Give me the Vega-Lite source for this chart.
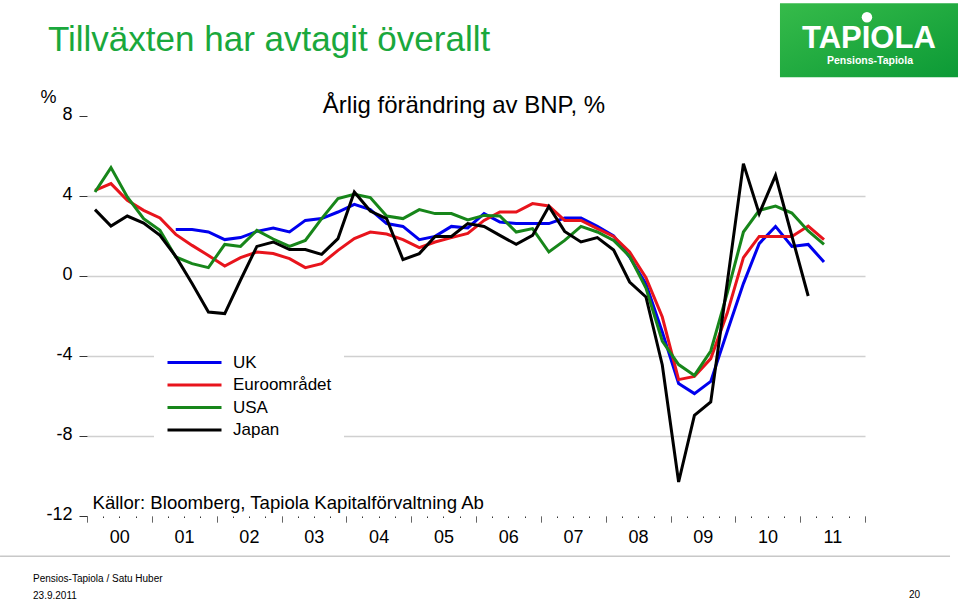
{
  "$schema": "https://vega.github.io/schema/vega-lite/v6.json",
  "width": 778,
  "height": 400,
  "autosize": {"type": "none"},
  "padding": {"left": 87, "top": 116, "right": 95, "bottom": 84},
  "background": "white",
  "config": {"view": {"stroke": null}, "font": "Liberation Sans"},
  "layer": [
    {
      "data": {"values": [
        {"date": "2001-05-15", "country": "UK", "value": 2.32},
        {"date": "2001-08-15", "country": "UK", "value": 2.32},
        {"date": "2001-11-15", "country": "UK", "value": 2.2},
        {"date": "2002-02-15", "country": "UK", "value": 1.82},
        {"date": "2002-05-15", "country": "UK", "value": 1.92},
        {"date": "2002-08-15", "country": "UK", "value": 2.23},
        {"date": "2002-11-15", "country": "UK", "value": 2.4},
        {"date": "2003-02-15", "country": "UK", "value": 2.2},
        {"date": "2003-05-15", "country": "UK", "value": 2.78},
        {"date": "2003-08-15", "country": "UK", "value": 2.87},
        {"date": "2003-11-15", "country": "UK", "value": 3.2},
        {"date": "2004-02-15", "country": "UK", "value": 3.58},
        {"date": "2004-05-15", "country": "UK", "value": 3.32},
        {"date": "2004-08-15", "country": "UK", "value": 2.62},
        {"date": "2004-11-15", "country": "UK", "value": 2.48},
        {"date": "2005-02-15", "country": "UK", "value": 1.82},
        {"date": "2005-05-15", "country": "UK", "value": 1.98},
        {"date": "2005-08-15", "country": "UK", "value": 2.48},
        {"date": "2005-11-15", "country": "UK", "value": 2.4},
        {"date": "2006-02-15", "country": "UK", "value": 3.12},
        {"date": "2006-05-15", "country": "UK", "value": 2.7},
        {"date": "2006-08-15", "country": "UK", "value": 2.62},
        {"date": "2006-11-15", "country": "UK", "value": 2.62},
        {"date": "2007-02-15", "country": "UK", "value": 2.62},
        {"date": "2007-05-15", "country": "UK", "value": 2.9},
        {"date": "2007-08-15", "country": "UK", "value": 2.9},
        {"date": "2007-11-15", "country": "UK", "value": 2.48},
        {"date": "2008-02-15", "country": "UK", "value": 2.0},
        {"date": "2008-05-15", "country": "UK", "value": 0.95},
        {"date": "2008-08-15", "country": "UK", "value": -0.4},
        {"date": "2008-11-15", "country": "UK", "value": -2.8},
        {"date": "2009-02-15", "country": "UK", "value": -5.38},
        {"date": "2009-05-15", "country": "UK", "value": -5.88},
        {"date": "2009-08-15", "country": "UK", "value": -5.27},
        {"date": "2009-11-15", "country": "UK", "value": -2.8},
        {"date": "2010-02-15", "country": "UK", "value": -0.38},
        {"date": "2010-05-15", "country": "UK", "value": 1.62},
        {"date": "2010-08-15", "country": "UK", "value": 2.48},
        {"date": "2010-11-15", "country": "UK", "value": 1.48},
        {"date": "2011-02-15", "country": "UK", "value": 1.58},
        {"date": "2011-05-15", "country": "UK", "value": 0.7},

        {"date": "2000-02-15", "country": "Euroområdet", "value": 4.28},
        {"date": "2000-05-15", "country": "Euroområdet", "value": 4.62},
        {"date": "2000-08-15", "country": "Euroområdet", "value": 3.78},
        {"date": "2000-11-15", "country": "Euroområdet", "value": 3.28},
        {"date": "2001-02-15", "country": "Euroområdet", "value": 2.9},
        {"date": "2001-05-15", "country": "Euroområdet", "value": 2.08},
        {"date": "2001-08-15", "country": "Euroområdet", "value": 1.53},
        {"date": "2001-11-15", "country": "Euroområdet", "value": 1.03},
        {"date": "2002-02-15", "country": "Euroområdet", "value": 0.5},
        {"date": "2002-05-15", "country": "Euroområdet", "value": 0.92},
        {"date": "2002-08-15", "country": "Euroområdet", "value": 1.2},
        {"date": "2002-11-15", "country": "Euroområdet", "value": 1.12},
        {"date": "2003-02-15", "country": "Euroområdet", "value": 0.87},
        {"date": "2003-05-15", "country": "Euroområdet", "value": 0.42},
        {"date": "2003-08-15", "country": "Euroområdet", "value": 0.62},
        {"date": "2003-11-15", "country": "Euroområdet", "value": 1.28},
        {"date": "2004-02-15", "country": "Euroområdet", "value": 1.87},
        {"date": "2004-05-15", "country": "Euroområdet", "value": 2.2},
        {"date": "2004-08-15", "country": "Euroområdet", "value": 2.1},
        {"date": "2004-11-15", "country": "Euroområdet", "value": 1.82},
        {"date": "2005-02-15", "country": "Euroområdet", "value": 1.42},
        {"date": "2005-05-15", "country": "Euroområdet", "value": 1.7},
        {"date": "2005-08-15", "country": "Euroområdet", "value": 1.92},
        {"date": "2005-11-15", "country": "Euroområdet", "value": 2.13},
        {"date": "2006-02-15", "country": "Euroområdet", "value": 2.78},
        {"date": "2006-05-15", "country": "Euroområdet", "value": 3.2},
        {"date": "2006-08-15", "country": "Euroområdet", "value": 3.2},
        {"date": "2006-11-15", "country": "Euroområdet", "value": 3.62},
        {"date": "2007-02-15", "country": "Euroområdet", "value": 3.5},
        {"date": "2007-05-15", "country": "Euroområdet", "value": 2.78},
        {"date": "2007-08-15", "country": "Euroområdet", "value": 2.78},
        {"date": "2007-11-15", "country": "Euroområdet", "value": 2.37},
        {"date": "2008-02-15", "country": "Euroområdet", "value": 1.98},
        {"date": "2008-05-15", "country": "Euroområdet", "value": 1.2},
        {"date": "2008-08-15", "country": "Euroområdet", "value": -0.08},
        {"date": "2008-11-15", "country": "Euroområdet", "value": -2.05},
        {"date": "2009-02-15", "country": "Euroområdet", "value": -5.18},
        {"date": "2009-05-15", "country": "Euroområdet", "value": -5.02},
        {"date": "2009-08-15", "country": "Euroområdet", "value": -4.13},
        {"date": "2009-11-15", "country": "Euroområdet", "value": -1.88},
        {"date": "2010-02-15", "country": "Euroområdet", "value": 0.92},
        {"date": "2010-05-15", "country": "Euroområdet", "value": 1.98},
        {"date": "2010-08-15", "country": "Euroområdet", "value": 1.98},
        {"date": "2010-11-15", "country": "Euroområdet", "value": 1.98},
        {"date": "2011-02-15", "country": "Euroområdet", "value": 2.5},
        {"date": "2011-05-15", "country": "Euroområdet", "value": 1.82},

        {"date": "2000-02-15", "country": "USA", "value": 4.2},
        {"date": "2000-05-15", "country": "USA", "value": 5.42},
        {"date": "2000-08-15", "country": "USA", "value": 3.95},
        {"date": "2000-11-15", "country": "USA", "value": 2.87},
        {"date": "2001-02-15", "country": "USA", "value": 2.28},
        {"date": "2001-05-15", "country": "USA", "value": 0.95},
        {"date": "2001-08-15", "country": "USA", "value": 0.62},
        {"date": "2001-11-15", "country": "USA", "value": 0.42},
        {"date": "2002-02-15", "country": "USA", "value": 1.58},
        {"date": "2002-05-15", "country": "USA", "value": 1.48},
        {"date": "2002-08-15", "country": "USA", "value": 2.28},
        {"date": "2002-11-15", "country": "USA", "value": 1.85},
        {"date": "2003-02-15", "country": "USA", "value": 1.48},
        {"date": "2003-05-15", "country": "USA", "value": 1.78},
        {"date": "2003-08-15", "country": "USA", "value": 2.87},
        {"date": "2003-11-15", "country": "USA", "value": 3.87},
        {"date": "2004-02-15", "country": "USA", "value": 4.08},
        {"date": "2004-05-15", "country": "USA", "value": 3.92},
        {"date": "2004-08-15", "country": "USA", "value": 3.0},
        {"date": "2004-11-15", "country": "USA", "value": 2.87},
        {"date": "2005-02-15", "country": "USA", "value": 3.32},
        {"date": "2005-05-15", "country": "USA", "value": 3.12},
        {"date": "2005-08-15", "country": "USA", "value": 3.12},
        {"date": "2005-11-15", "country": "USA", "value": 2.8},
        {"date": "2006-02-15", "country": "USA", "value": 3.03},
        {"date": "2006-05-15", "country": "USA", "value": 3.0},
        {"date": "2006-08-15", "country": "USA", "value": 2.2},
        {"date": "2006-11-15", "country": "USA", "value": 2.37},
        {"date": "2007-02-15", "country": "USA", "value": 1.2},
        {"date": "2007-05-15", "country": "USA", "value": 1.78},
        {"date": "2007-08-15", "country": "USA", "value": 2.48},
        {"date": "2007-11-15", "country": "USA", "value": 2.2},
        {"date": "2008-02-15", "country": "USA", "value": 1.78},
        {"date": "2008-05-15", "country": "USA", "value": 0.98},
        {"date": "2008-08-15", "country": "USA", "value": -0.6},
        {"date": "2008-11-15", "country": "USA", "value": -3.25},
        {"date": "2009-02-15", "country": "USA", "value": -4.43},
        {"date": "2009-05-15", "country": "USA", "value": -4.97},
        {"date": "2009-08-15", "country": "USA", "value": -3.75},
        {"date": "2009-11-15", "country": "USA", "value": -0.88},
        {"date": "2010-02-15", "country": "USA", "value": 2.2},
        {"date": "2010-05-15", "country": "USA", "value": 3.28},
        {"date": "2010-08-15", "country": "USA", "value": 3.5},
        {"date": "2010-11-15", "country": "USA", "value": 3.15},
        {"date": "2011-02-15", "country": "USA", "value": 2.25},
        {"date": "2011-05-15", "country": "USA", "value": 1.58},

        {"date": "2000-02-15", "country": "Japan", "value": 3.32},
        {"date": "2000-05-15", "country": "Japan", "value": 2.5},
        {"date": "2000-08-15", "country": "Japan", "value": 3.0},
        {"date": "2000-11-15", "country": "Japan", "value": 2.65},
        {"date": "2001-02-15", "country": "Japan", "value": 2.03},
        {"date": "2001-05-15", "country": "Japan", "value": 0.98},
        {"date": "2001-08-15", "country": "Japan", "value": -0.38},
        {"date": "2001-11-15", "country": "Japan", "value": -1.8},
        {"date": "2002-02-15", "country": "Japan", "value": -1.88},
        {"date": "2002-05-15", "country": "Japan", "value": -0.2},
        {"date": "2002-08-15", "country": "Japan", "value": 1.48},
        {"date": "2002-11-15", "country": "Japan", "value": 1.7},
        {"date": "2003-02-15", "country": "Japan", "value": 1.32},
        {"date": "2003-05-15", "country": "Japan", "value": 1.32},
        {"date": "2003-08-15", "country": "Japan", "value": 1.08},
        {"date": "2003-11-15", "country": "Japan", "value": 1.87},
        {"date": "2004-02-15", "country": "Japan", "value": 4.2},
        {"date": "2004-05-15", "country": "Japan", "value": 3.25},
        {"date": "2004-08-15", "country": "Japan", "value": 2.87},
        {"date": "2004-11-15", "country": "Japan", "value": 0.82},
        {"date": "2005-02-15", "country": "Japan", "value": 1.12},
        {"date": "2005-05-15", "country": "Japan", "value": 1.98},
        {"date": "2005-08-15", "country": "Japan", "value": 1.98},
        {"date": "2005-11-15", "country": "Japan", "value": 2.62},
        {"date": "2006-02-15", "country": "Japan", "value": 2.48},
        {"date": "2006-05-15", "country": "Japan", "value": 2.03},
        {"date": "2006-08-15", "country": "Japan", "value": 1.58},
        {"date": "2006-11-15", "country": "Japan", "value": 2.03},
        {"date": "2007-02-15", "country": "Japan", "value": 3.48},
        {"date": "2007-05-15", "country": "Japan", "value": 2.23},
        {"date": "2007-08-15", "country": "Japan", "value": 1.7},
        {"date": "2007-11-15", "country": "Japan", "value": 1.92},
        {"date": "2008-02-15", "country": "Japan", "value": 1.3},
        {"date": "2008-05-15", "country": "Japan", "value": -0.3},
        {"date": "2008-08-15", "country": "Japan", "value": -1.05},
        {"date": "2008-11-15", "country": "Japan", "value": -4.45},
        {"date": "2009-02-15", "country": "Japan", "value": -10.3},
        {"date": "2009-05-15", "country": "Japan", "value": -6.97},
        {"date": "2009-08-15", "country": "Japan", "value": -6.3},
        {"date": "2009-11-15", "country": "Japan", "value": -0.4},
        {"date": "2010-02-15", "country": "Japan", "value": 5.62},
        {"date": "2010-05-15", "country": "Japan", "value": 3.12},
        {"date": "2010-08-15", "country": "Japan", "value": 5.03},
        {"date": "2010-11-15", "country": "Japan", "value": 2.0},
        {"date": "2011-02-15", "country": "Japan", "value": -1.0}
      ]},
      "mark": {"type": "line", "strokeWidth": 3, "clip": false},
      "encoding": {
        "x": {
          "field": "date", "type": "temporal",
          "scale": {"type": "utc", "nice": false, "domain": [{"year": 2000, "month": 1, "date": 1, "utc": true}, {"year": 2012, "month": 1, "date": 1, "utc": true}]},
          "axis": {
            "tickCount": {"interval": "month", "step": 3},
            "labelExpr": "utcmonth(datum.value) == 6 ? utcFormat(datum.value, '%y') : ''",
            "labelOverlap": false, "labelFlush": false, "labelBound": false,
            "labelFontSize": 18, "labelColor": "black", "labelPadding": 6, "labelAlign": "center",
            "tickSize": 6, "tickColor": "#333333", "tickWidth": 1,
            "tickDash": {"condition": {"test": "utcmonth(datum.value) != 0", "value": [1.5, 30]}, "value": [1, 0]},
            "domain": false, "grid": false,
            "title": "Källor: Bloomberg, Tapiola Kapitalförvaltning Ab",
            "titleX": 5, "titleY": -8, "titleAlign": "left", "titleBaseline": "alphabetic",
            "titleFontSize": 18.6, "titleFontWeight": "normal", "titleColor": "black"
          }
        },
        "y": {
          "field": "value", "type": "quantitative",
          "scale": {"domain": [-12, 8], "nice": false, "zero": false},
          "axis": {
            "values": [8, 4, 0, -4, -8, -12],
            "labelExpr": "'' + datum.value",
            "title": "%", "titleAngle": 0, "titleX": -47, "titleY": -14, "titleAlign": "left", "titleBaseline": "alphabetic",
            "titleFontSize": 18, "titleFontWeight": "normal", "titleColor": "black",
            "labelFontSize": 18, "labelColor": "black", "labelPadding": 7, "labelOffset": -2,
            "tickSize": 8, "tickColor": "#333333", "tickWidth": 1,
            "domain": false, "grid": true, "gridColor": "#d0d0d0", "gridWidth": 1.5,
            "gridOpacity": {"condition": {"test": "datum.value == 8 || datum.value == -12", "value": 0}, "value": 1}
          }
        },
        "color": {
          "field": "country", "type": "nominal",
          "scale": {"domain": ["UK", "Euroområdet", "USA", "Japan"], "range": ["#0000ee", "#e8141c", "#17861a", "#000000"]},
          "legend": {
            "orient": "none", "legendX": 67, "legendY": 226, "title": null,
            "fillColor": "white", "padding": 12,
            "symbolType": "stroke", "symbolSize": 2916, "symbolStrokeWidth": 3,
            "labelFontSize": 17, "labelColor": "black", "labelOffset": 10,
            "clipHeight": 17, "rowPadding": 4.5
          }
        }
      }
    },
    {
      "data": {"values": [{}]},
      "mark": {"type": "text", "text": "Tillväxten har avtagit överallt", "align": "left", "baseline": "alphabetic", "fontSize": 35, "color": "#1aa83c"},
      "encoding": {
        "x": {"datum": {"year": 1999, "month": 5, "date": 26, "utc": true}, "type": "temporal"},
        "y": {"datum": 11.235, "type": "quantitative"}
      }
    },
    {
      "data": {"values": [{}]},
      "mark": {"type": "text", "text": "Årlig förändring av BNP, %", "align": "center", "baseline": "alphabetic", "fontSize": 24, "color": "black"},
      "encoding": {
        "x": {"datum": {"year": 2005, "month": 10, "date": 25, "utc": true}, "type": "temporal"},
        "y": {"datum": 8.135, "type": "quantitative"}
      }
    },
    {
      "data": {"values": [{}]},
      "mark": {"type": "rect", "fill": {"gradient": "linear", "x1": 0, "y1": 0, "x2": 1, "y2": 1, "stops": [{"offset": 0, "color": "#36bb4a"}, {"offset": 1, "color": "#0c9a36"}]}},
      "encoding": {
        "x": {"datum": {"year": 2010, "month": 9, "date": 9, "utc": true}, "type": "temporal"},
        "x2": {"datum": {"year": 2013, "month": 6, "date": 8, "utc": true}},
        "y": {"datum": 13.635, "type": "quantitative"},
        "y2": {"datum": 9.935}
      }
    },
    {
      "data": {"values": [{}]},
      "mark": {"type": "text", "text": "TAPIOLA", "align": "center", "baseline": "alphabetic", "fontSize": 31, "fontWeight": "bold", "color": "white"},
      "encoding": {
        "x": {"datum": {"year": 2012, "month": 1, "date": 23, "utc": true}, "type": "temporal"},
        "y": {"datum": 11.385, "type": "quantitative"}
      }
    },
    {
      "data": {"values": [{}]},
      "mark": {"type": "point", "shape": "circle", "filled": true, "color": "white", "opacity": 1, "size": 110},
      "encoding": {
        "x": {"datum": {"year": 2012, "month": 1, "date": 12, "utc": true}, "type": "temporal"},
        "y": {"datum": 12.935, "type": "quantitative"}
      }
    },
    {
      "data": {"values": [{}]},
      "mark": {"type": "text", "text": "Pensions-Tapiola", "align": "center", "baseline": "alphabetic", "fontSize": 10.5, "fontWeight": "bold", "color": "white"},
      "encoding": {
        "x": {"datum": {"year": 2012, "month": 1, "date": 29, "utc": true}, "type": "temporal"},
        "y": {"datum": 10.585, "type": "quantitative"}
      }
    },
    {
      "data": {"values": [{}]},
      "mark": {"type": "rule", "color": "#c8c8c8", "strokeWidth": 1.5},
      "encoding": {
        "x": {"datum": {"year": 1998, "month": 8, "date": 29, "utc": true}, "type": "temporal"},
        "x2": {"datum": {"year": 2013, "month": 4, "date": 24, "utc": true}},
        "y": {"datum": -14.015, "type": "quantitative"}
      }
    },
    {
      "data": {"values": [{}]},
      "mark": {"type": "text", "text": "Pensios-Tapiola / Satu Huber", "align": "left", "baseline": "alphabetic", "fontSize": 10, "color": "black"},
      "encoding": {
        "x": {"datum": {"year": 1999, "month": 3, "date": 3, "utc": true}, "type": "temporal"},
        "y": {"datum": -15.315, "type": "quantitative"}
      }
    },
    {
      "data": {"values": [{}]},
      "mark": {"type": "text", "text": "23.9.2011", "align": "left", "baseline": "alphabetic", "fontSize": 10, "color": "black"},
      "encoding": {
        "x": {"datum": {"year": 1999, "month": 3, "date": 3, "utc": true}, "type": "temporal"},
        "y": {"datum": -16.165, "type": "quantitative"}
      }
    },
    {
      "data": {"values": [{}]},
      "mark": {"type": "text", "text": "20", "align": "right", "baseline": "alphabetic", "fontSize": 10, "color": "black"},
      "encoding": {
        "x": {"datum": {"year": 2012, "month": 11, "date": 6, "utc": true}, "type": "temporal"},
        "y": {"datum": -16.115, "type": "quantitative"}
      }
    }
  ]
}
